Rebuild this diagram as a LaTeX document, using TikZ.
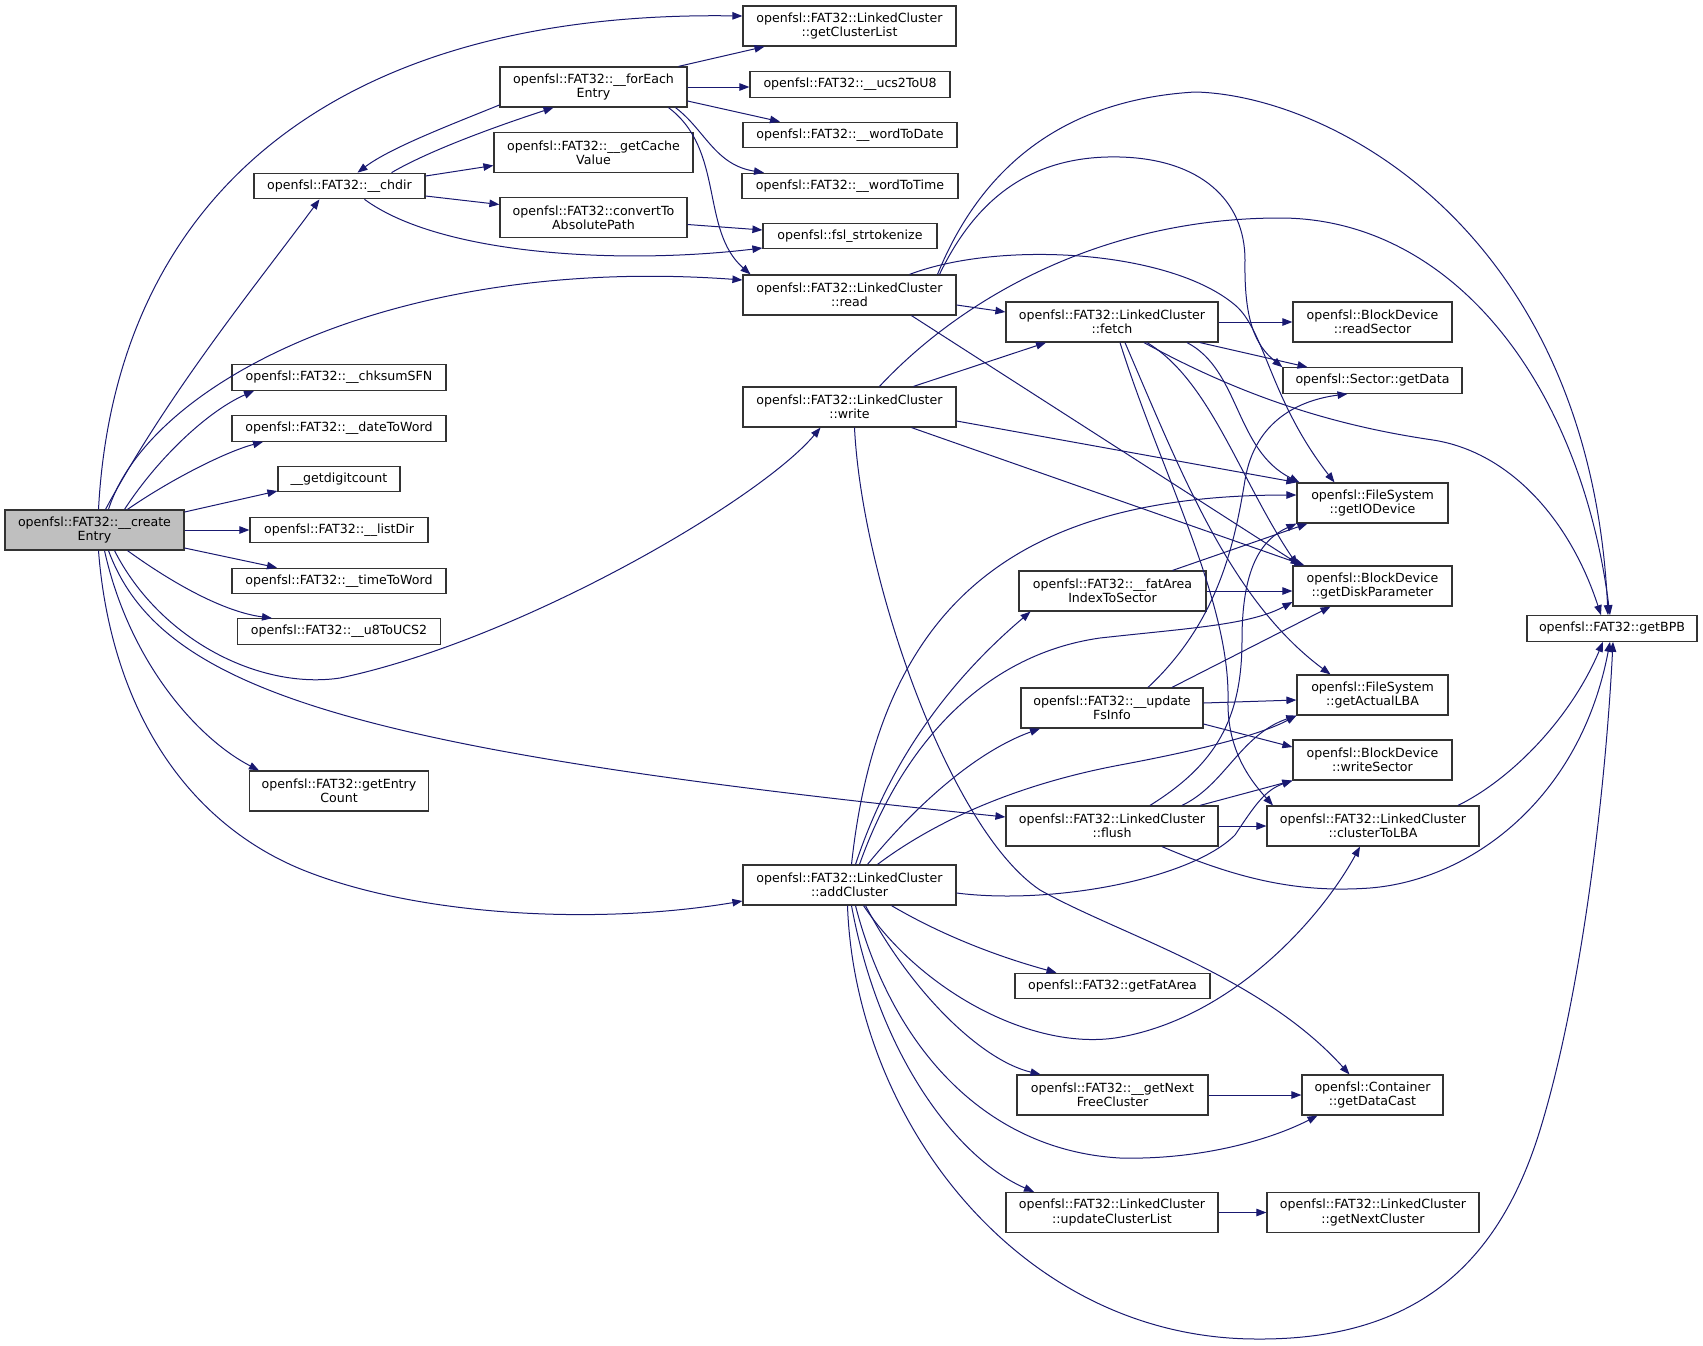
\documentclass[tikz,border=0pt]{standalone}
\usepackage{fontspec}
\setmainfont{DejaVu Sans}
\usetikzlibrary{arrows.meta}
\definecolor{edgeblue}{HTML}{191970}
\definecolor{rootgray}{HTML}{BFBFBF}

\begin{document}
\begin{tikzpicture}[x=1pt,y=-1pt,
  fn/.style={draw=black!80,line width=1.2pt,rectangle,inner sep=0pt,align=center,
    font=\fontsize{12.6}{14.3}\selectfont,minimum height=25.5pt},
  two/.style={minimum height=40pt},
  call/.style={draw=edgeblue,line width=1pt,-{Triangle[length=10pt,width=7.5pt]}}]
  \useasboundingbox (0,0) rectangle (1703,1345);

  \node[fn,two,fill=rootgray,minimum width=179pt] (ce) at (94.5,530) {openfsl::FAT32::\_\_create\\Entry};
  \node[fn,two,minimum width=213pt] (gcl) at (849.5,26) {openfsl::FAT32::LinkedCluster\\::getClusterList};
  \node[fn,two,minimum width=187pt] (fe) at (593.5,87) {openfsl::FAT32::\_\_forEach\\Entry};
  \node[fn,minimum width=200pt] (u2u) at (850,84.5) {openfsl::FAT32::\_\_ucs2ToU8};
  \node[fn,minimum width=214pt] (w2d) at (850,135) {openfsl::FAT32::\_\_wordToDate};
  \node[fn,minimum width=216pt] (w2t) at (850,186) {openfsl::FAT32::\_\_wordToTime};
  \node[fn,minimum width=171pt] (cd) at (339.5,186) {openfsl::FAT32::\_\_chdir};
  \node[fn,two,minimum width=199pt] (gcv) at (593.5,152.5) {openfsl::FAT32::\_\_getCache\\Value};
  \node[fn,two,minimum width=187pt] (cap) at (593.5,217.5) {openfsl::FAT32::convertTo\\AbsolutePath};
  \node[fn,minimum width=174pt] (tok) at (850,236) {openfsl::fsl\_strtokenize};
  \node[fn,two,minimum width=213pt] (rd) at (849.5,295) {openfsl::FAT32::LinkedCluster\\::read};
  \node[fn,two,minimum width=212pt] (fch) at (1112,322) {openfsl::FAT32::LinkedCluster\\::fetch};
  \node[fn,two,minimum width=159pt] (rs) at (1372.5,322) {openfsl::BlockDevice\\::readSector};
  \node[fn,minimum width=179pt] (gd) at (1372.5,380.5) {openfsl::Sector::getData};
  \node[fn,two,minimum width=213pt] (wr) at (849.5,407) {openfsl::FAT32::LinkedCluster\\::write};
  \node[fn,minimum width=214pt] (cks) at (339,377.5) {openfsl::FAT32::\_\_chksumSFN};
  \node[fn,minimum width=214pt] (d2w) at (339,428.5) {openfsl::FAT32::\_\_dateToWord};
  \node[fn,minimum width=122pt] (gdc) at (339,479) {\_\_getdigitcount};
  \node[fn,minimum width=178pt] (ld) at (339,530) {openfsl::FAT32::\_\_listDir};
  \node[fn,minimum width=214pt] (t2w) at (339,581) {openfsl::FAT32::\_\_timeToWord};
  \node[fn,minimum width=203pt] (u8u) at (339,631.5) {openfsl::FAT32::\_\_u8ToUCS2};
  \node[fn,two,minimum width=151pt] (giod) at (1372.5,503) {openfsl::FileSystem\\::getIODevice};
  \node[fn,two,minimum width=159pt] (gdp) at (1372.5,586) {openfsl::BlockDevice\\::getDiskParameter};
  \node[fn,two,minimum width=187pt] (fai) at (1112.5,591) {openfsl::FAT32::\_\_fatArea\\IndexToSector};
  \node[fn,minimum width=170pt] (bpb) at (1612,628.5) {openfsl::FAT32::getBPB};
  \node[fn,two,minimum width=182pt] (ufi) at (1112,708) {openfsl::FAT32::\_\_update\\FsInfo};
  \node[fn,two,minimum width=151pt] (gal) at (1372.5,695) {openfsl::FileSystem\\::getActualLBA};
  \node[fn,two,minimum width=159pt] (ws) at (1372.5,760) {openfsl::BlockDevice\\::writeSector};
  \node[fn,two,minimum width=212pt] (fl) at (1112,826) {openfsl::FAT32::LinkedCluster\\::flush};
  \node[fn,two,minimum width=212pt] (c2l) at (1373,826) {openfsl::FAT32::LinkedCluster\\::clusterToLBA};
  \node[fn,two,minimum width=179pt] (gec) at (339,791) {openfsl::FAT32::getEntry\\Count};
  \node[fn,two,minimum width=213pt] (ac) at (849.5,885) {openfsl::FAT32::LinkedCluster\\::addCluster};
  \node[fn,minimum width=195pt] (gfa) at (1112.5,986) {openfsl::FAT32::getFatArea};
  \node[fn,two,minimum width=191pt] (gnf) at (1112.5,1095) {openfsl::FAT32::\_\_getNext\\FreeCluster};
  \node[fn,two,minimum width=141pt] (gdcast) at (1372.5,1095) {openfsl::Container\\::getDataCast};
  \node[fn,two,minimum width=212pt] (ucl) at (1112,1212.5) {openfsl::FAT32::LinkedCluster\\::updateClusterList};
  \node[fn,two,minimum width=212pt] (gnc) at (1373,1212.5) {openfsl::FAT32::LinkedCluster\\::getNextCluster};

  \draw[call] ([xshift=4pt]ce.north) .. controls (115,200) and (330,10) .. ([yshift=10pt]gcl.west);
  \draw[call] ([xshift=11pt]ce.north) .. controls (170,390) and (260,280) .. ([xshift=-20pt]cd.south);
  \draw[call] ([xshift=14pt]ce.north) .. controls (150,380) and (400,255) .. ([yshift=15pt]rd.west);
  \draw[call] ([xshift=30pt]ce.north) .. controls (160,455) and (210,410) .. ([xshift=-85pt]cks.south);
  \draw[call] ([xshift=33pt]ce.north) .. controls (170,480) and (225,452) .. ([xshift=-76pt]d2w.south);
  \draw[call] ([yshift=18pt]ce.east) -- ([yshift=-12pt]gdc.west);
  \draw[call] (ce.east) -- (ld.west);
  \draw[call] ([yshift=-18pt]ce.east) -- ([xshift=-62pt]t2w.north);
  \draw[call] ([xshift=33pt]ce.south) .. controls (175,585) and (225,612) .. ([xshift=-67pt]u8u.north);
  \draw[call] ([xshift=20pt]ce.south) .. controls (160,640) and (260,690) .. (340,678) .. controls (520,640) and (760,500) .. ([xshift=-29pt]wr.south);
  \draw[call] ([xshift=14pt]ce.south) .. controls (160,690) and (350,750) .. ([yshift=9pt]fl.west);
  \draw[call] ([xshift=10pt]ce.south) .. controls (130,665) and (200,740) .. ([xshift=-80pt]gec.north);
  \draw[call] ([xshift=4pt]ce.south) .. controls (110,700) and (180,820) .. (303,870) .. controls (420,917) and (600,925) .. ([yshift=-16pt]ac.west);

  \draw[call] ([xshift=52pt]cd.north) .. controls (430,150) and (500,125) .. ([xshift=-40pt]fe.south);
  \draw[call] ([yshift=10pt]cd.east) -- ([yshift=-13pt]gcv.west);
  \draw[call] ([yshift=-10pt]cd.east) -- ([yshift=13pt]cap.west);
  \draw[call] ([xshift=25pt]cd.south) .. controls (440,255) and (620,265) .. ([yshift=-12pt]tok.west);

  \draw[call] ([yshift=-18pt]fe.west) .. controls (450,125) and (390,148) .. ([xshift=18pt]cd.north);
  \draw[call] ([xshift=85pt]fe.north) -- ([xshift=-85pt]gcl.south);
  \draw[call] (fe.east) -- (fe.east -| u2u.west);
  \draw[call] ([yshift=-14pt]fe.east) -- ([xshift=-70pt]w2d.north);
  \draw[call] ([xshift=82pt]fe.south) .. controls (705,130) and (715,165) .. ([xshift=-86pt]w2t.north);
  \draw[call] ([xshift=75pt]fe.south) .. controls (725,150) and (700,230) .. ([xshift=-99pt]rd.north);

  \draw[call] ([yshift=-7pt]cap.east) -- ([yshift=6pt]tok.west);

  \draw[call] ([yshift=-10pt]rd.east) -- ([yshift=10pt]fch.west);
  \draw[call] ([xshift=88pt]rd.north) .. controls (980,170) and (1060,100) .. (1195,92) .. controls (1330,95) and (1590,230) .. ([xshift=-4pt]bpb.north);
  \draw[call] ([xshift=90pt]rd.north) .. controls (980,190) and (1040,155) .. (1120,157) .. controls (1200,159) and (1245,200) .. (1245,260) .. controls (1244,320) and (1255,345) .. (gd.north west);
  \draw[call] ([xshift=60pt]rd.north) .. controls (1000,240) and (1170,250) .. (1235,305) .. controls (1265,330) and (1270,400) .. ([xshift=-38pt]giod.north);
  \draw[call] ([xshift=62pt]rd.south) -- ([xshift=-72pt]gdp.north);

  \draw[call] ([xshift=64pt]wr.north) -- ([xshift=-66pt]fch.south);
  \draw[call] ([xshift=30pt]wr.north) .. controls (960,300) and (1100,218) .. (1280,218) .. controls (1450,218) and (1580,380) .. ([xshift=-2pt]bpb.north);
  \draw[call] ([yshift=-14pt]wr.east) -- (giod.north west);
  \draw[call] ([xshift=62pt]wr.south) -- ([xshift=-68pt]gdp.north);
  \draw[call] ([xshift=5pt]wr.south) .. controls (862,580) and (950,830) .. (1040,890) .. controls (1120,935) and (1260,975) .. ([xshift=-23pt]gdcast.north);

  \draw[call] (fch.east) -- (rs.west);
  \draw[call] ([xshift=88pt]fch.south) -- ([xshift=-65pt]gd.north);
  \draw[call] ([xshift=75pt]fch.south) .. controls (1240,370) and (1235,450) .. ([xshift=3pt]giod.north west);
  \draw[call] ([xshift=35pt]fch.south) .. controls (1210,380) and (1240,480) .. ([xshift=-75pt]gdp.north);
  \draw[call] ([xshift=32pt]fch.south) .. controls (1240,395) and (1330,425) .. (1433,440) .. controls (1510,452) and (1570,520) .. ([xshift=-11pt]bpb.north);
  \draw[call] ([xshift=13pt]fch.south) .. controls (1180,470) and (1230,600) .. ([xshift=-42pt]gal.north);
  \draw[call] ([xshift=8pt]fch.south) .. controls (1160,470) and (1230,600) .. (1228,700) .. controls (1227,750) and (1250,780) .. ([xshift=-100pt]c2l.north);

  \draw[call] ([xshift=38pt]fl.north) .. controls (1215,765) and (1242,720) .. (1242,640) .. controls (1242,570) and (1260,540) .. (giod.south west);
  \draw[call] ([xshift=70pt]fl.north) .. controls (1225,785) and (1240,735) .. (gal.south west);
  \draw[call] ([xshift=88pt]fl.north) -- (ws.south west);
  \draw[call] (fl.east) -- (c2l.west);
  \draw[call] ([xshift=50pt]fl.south) .. controls (1240,880) and (1300,893) .. (1370,888) .. controls (1470,880) and (1580,800) .. ([xshift=-2pt]bpb.south);

  \draw[call] ([xshift=36pt]ufi.north) .. controls (1220,620) and (1235,540) .. (1245,480) .. controls (1255,420) and (1300,400) .. ([xshift=-25pt]gd.south);
  \draw[call] ([xshift=60pt]ufi.north) -- ([xshift=-42pt]gdp.south);
  \draw[call] ([yshift=5pt]ufi.east) -- ([yshift=-5pt]gal.west);
  \draw[call] ([yshift=-16pt]ufi.east) -- ([yshift=13pt]ws.west);

  \draw[call] ([xshift=60pt]fai.north) -- ([xshift=-65pt]giod.south);
  \draw[call] (fai.east) -- (fai.east -| gdp.west);

  \draw[call] ([xshift=85pt]c2l.north) .. controls (1510,780) and (1570,720) .. ([xshift=-9pt]bpb.south);
  \draw[call] (gnf.east) -- (gdcast.west);
  \draw[call] (ucl.east) -- (gnc.west);

  \draw[call] ([xshift=2pt]ac.north) .. controls (880,600) and (1020,495) .. ([yshift=8pt]giod.west);
  \draw[call] ([xshift=6pt]ac.north) .. controls (890,760) and (950,680) .. ([xshift=-82pt]fai.south);
  \draw[call] ([xshift=10pt]ac.north) .. controls (900,750) and (980,655) .. (1100,638) .. controls (1190,628) and (1250,625) .. ([yshift=-16pt]gdp.west);
  \draw[call] ([xshift=18pt]ac.north) .. controls (920,800) and (980,750) .. ([xshift=-72pt]ufi.south);
  \draw[call] ([xshift=28pt]ac.north) .. controls (950,810) and (1040,780) .. (1120,765) .. controls (1200,750) and (1260,735) .. (gal.south west);
  \draw[call] ([yshift=-8pt]ac.east) .. controls (1050,905) and (1190,880) .. (1235,835) .. controls (1255,805) and (1265,790) .. (ws.south west);
  \draw[call] ([xshift=14pt]ac.south) .. controls (920,990) and (1030,1050) .. (1115,1038) .. controls (1230,1020) and (1320,920) .. ([xshift=-13pt]c2l.south);
  \draw[call] ([xshift=42pt]ac.south) .. controls (950,940) and (1010,960) .. ([xshift=-56pt]gfa.north);
  \draw[call] ([xshift=16pt]ac.south) .. controls (910,990) and (980,1060) .. ([xshift=-72pt]gnf.north);
  \draw[call] ([xshift=6pt]ac.south) .. controls (890,1040) and (980,1150) .. (1120,1158) .. controls (1200,1160) and (1270,1140) .. ([xshift=-55pt]gdcast.south);
  \draw[call] ([xshift=2pt]ac.south) .. controls (880,1060) and (960,1160) .. ([xshift=-78pt]ucl.north);
  \draw[call] ([xshift=-2pt]ac.south) .. controls (855,1120) and (1020,1339) .. (1257,1339) .. controls (1420,1340) and (1500,1260) .. (1540,1130) .. controls (1580,1000) and (1605,800) .. ([xshift=1pt]bpb.south);
\end{tikzpicture}
\end{document}
